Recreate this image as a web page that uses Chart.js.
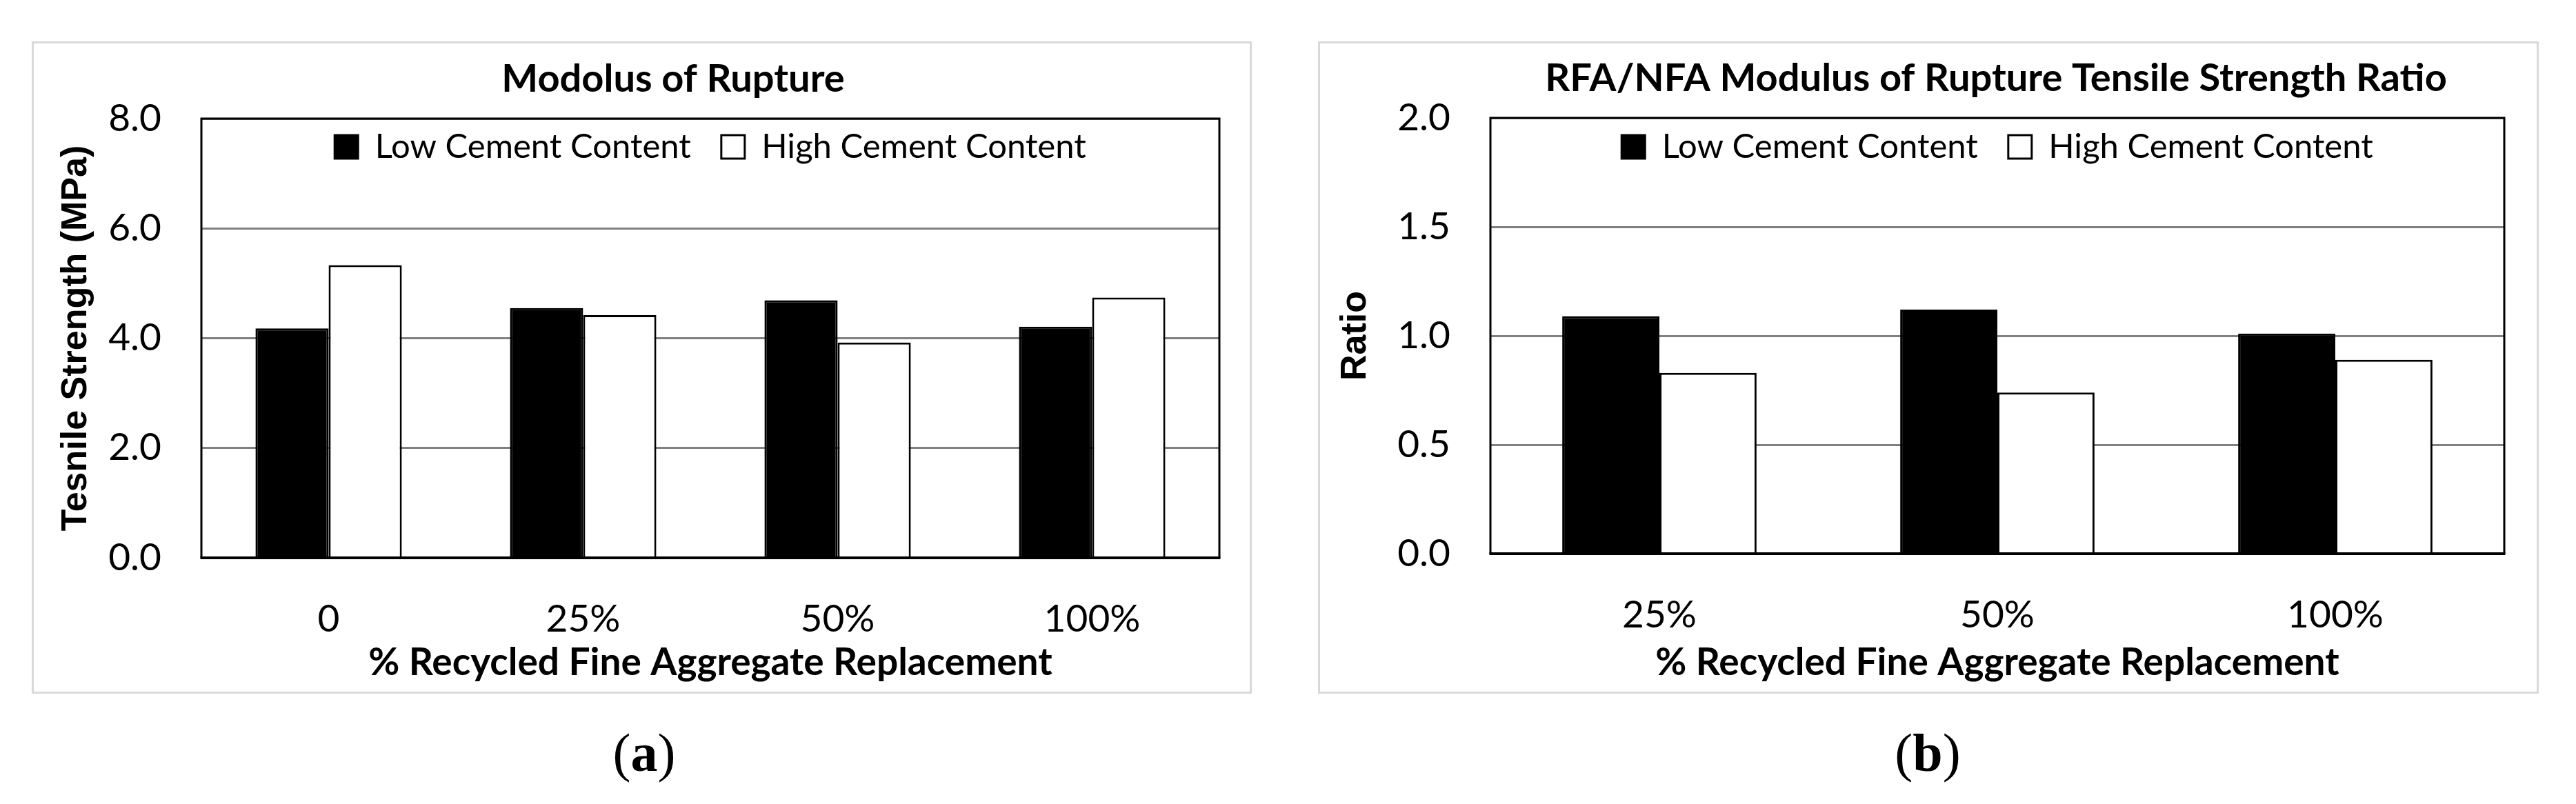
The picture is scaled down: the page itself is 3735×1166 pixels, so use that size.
<!DOCTYPE html>
<html>
<head>
<meta charset="utf-8">
<script src="https://cdn.jsdelivr.net/npm/chart.js@4.4.1/dist/chart.umd.min.js"></script>
<style>
  html, body { margin: 0; padding: 0; background: #fff; }
  body { width: 3735px; height: 1166px; position: relative; overflow: hidden; }
  .panel { position: absolute; box-sizing: border-box; border: 3px solid #d9d9d9; }
  canvas { position: absolute; }
  .sub { position: absolute; width: 200px; text-align: center; font-family: 'Liberation Serif', serif; font-size: 78px; line-height: 90px; color: #000; }
</style>
</head>
<body>
<div class="panel" style="left:46px;top:60px;width:1769px;height:946px"></div>
<div class="panel" style="left:1911px;top:60px;width:1770px;height:946px"></div>
<canvas id="chartA" width="1767" height="944" style="left:47px;top:61px"></canvas>
<canvas id="chartB" width="1768" height="944" style="left:1912px;top:61px"></canvas>
<div class="sub" style="left:834px;top:1047px">(<b>a</b>)</div>
<div class="sub" style="left:2695px;top:1047px">(<b>b</b>)</div>
<script>
// values
const SERIES = ['Low Cement Content', 'High Cement Content'];
const X_TITLE = '% Recycled Fine Aggregate Replacement';

const CATEGORIES_A = ['0', '25%', '50%', '100%'];
const LOW_A = [4.18, 4.55, 4.69, 4.21];
const HIGH_A = [5.33, 4.42, 3.92, 4.74];
const TICKS_A = [0, 2, 4, 6, 8];

const CATEGORIES_B = ['25%', '50%', '100%'];
const LOW_B = [1.09, 1.12, 1.01];
const HIGH_B = [0.83, 0.74, 0.89];
const TICKS_B = [0, 0.5, 1, 1.5, 2];

const LEGEND_FONT = 49;
const LEGEND_PAD = 44;
const LEGEND_H = LEGEND_FONT + LEGEND_PAD + 10; // height chart.js gives a one-row legend

// chart title, centred where the original has it
const panelTitle = {
    id: 'panelTitle',
    afterDraw(chart, args, opts) {
        const ctx = chart.ctx;
        ctx.save();
        ctx.font = 'bold 56px Lato';
        ctx.fillStyle = '#000';
        ctx.textAlign = 'center';
        ctx.textBaseline = 'alphabetic';
        ctx.fillText(opts.text, opts.x, opts.y);
        ctx.restore();
    }
};

// black frame round the plot area, thicker along the category axis
const plotBox = {
    id: 'plotBox',
    afterDatasetsDraw(chart) {
        const { ctx, chartArea: a } = chart;
        ctx.save();
        ctx.strokeStyle = '#000';
        ctx.lineWidth = 3;
        ctx.beginPath();
        ctx.moveTo(a.left, a.bottom);
        ctx.lineTo(a.left, a.top);
        ctx.lineTo(a.right, a.top);
        ctx.lineTo(a.right, a.bottom);
        ctx.stroke();
        ctx.lineWidth = 4;
        ctx.beginPath();
        ctx.moveTo(a.left - 1.5, a.bottom);
        ctx.lineTo(a.right + 1.5, a.bottom);
        ctx.stroke();
        ctx.restore();
    }
};

// move the legend down into the plot box, as Excel draws it
const legendInside = {
    id: 'legendInside',
    afterLayout(chart, args, opts) {
        const lg = chart.legend;
        const a = chart.chartArea;
        const h = lg.height;
        lg.left = a.left;
        lg.right = a.right;
        lg.width = a.right - a.left;
        lg.top = opts.y;
        lg.bottom = opts.y + h;
    }
};

function makeChart(id, categories, low, high, ticks, yTitle, cfg) {
    return new Chart(document.getElementById(id), {
        type: 'bar',
        data: {
            labels: categories,
            datasets: [
                { label: SERIES[0], data: low, backgroundColor: '#000', borderColor: '#000', borderWidth: 3 },
                { label: SERIES[1], data: high, backgroundColor: '#fff', borderColor: '#000', borderWidth: 3 }
            ]
        },
        options: {
            responsive: false,
            animation: false,
            devicePixelRatio: 1,
            layout: { padding: { top: cfg.areaTop - LEGEND_H, right: cfg.padRight, bottom: 0, left: 0 } },
            datasets: { bar: { categoryPercentage: 0.575, barPercentage: 1 } },
            scales: {
                x: {
                    grid: { display: false },
                    border: { display: false },
                    ticks: { color: '#000', font: { family: 'Lato', size: 55 }, padding: 48, maxRotation: 0 },
                    title: {
                        display: true, text: X_TITLE, color: '#000',
                        font: { family: 'Lato', size: 55, weight: 'bold' },
                        padding: { top: 0, bottom: 11 }
                    },
                    afterFit: (s) => { s.height = cfg.xHeight; }
                },
                y: {
                    min: ticks[0],
                    max: ticks[ticks.length - 1],
                    grid: { color: '#808080', lineWidth: 3, drawTicks: false },
                    border: { display: false },
                    ticks: {
                        stepSize: ticks[1] - ticks[0],
                        color: '#000',
                        font: { family: 'Lato', size: 55 },
                        padding: 58,
                        callback: (v) => v.toFixed(1)
                    },
                    title: {
                        display: true, text: yTitle, color: '#000',
                        font: { family: 'Liberation Sans', size: 52, weight: 'bold' },
                        padding: { top: cfg.yTitlePad, bottom: 0 }
                    },
                    afterFit: (s) => { s.width = cfg.yWidth; }
                }
            },
            plugins: {
                legend: {
                    position: 'top',
                    labels: {
                        color: '#000',
                        font: { family: 'Lato', size: LEGEND_FONT },
                        boxWidth: 34,
                        boxHeight: 34,
                        padding: LEGEND_PAD
                    }
                },
                tooltip: { enabled: false },
                legendInside: { y: 83.5 },
                panelTitle: cfg.title
            }
        },
        plugins: [panelTitle, plotBox, legendInside]
    });
}

makeChart('chartA', CATEGORIES_A, LOW_A, HIGH_A, TICKS_A, 'Tesnile Strength (MPa)', {
    areaTop: 111, padRight: 46, xHeight: 196, yWidth: 245, yTitlePad: 32,
    title: { text: 'Modolus of Rupture', x: 929, y: 72 }
});

makeChart('chartB', CATEGORIES_B, LOW_B, HIGH_B, TICKS_B, 'Ratio', {
    areaTop: 110, padRight: 49, xHeight: 202, yWidth: 249, yTitlePad: 22,
    title: { text: 'RFA/NFA Modulus of Rupture Tensile Strength Ratio', x: 982, y: 71 }
});
</script>
</body>
</html>
